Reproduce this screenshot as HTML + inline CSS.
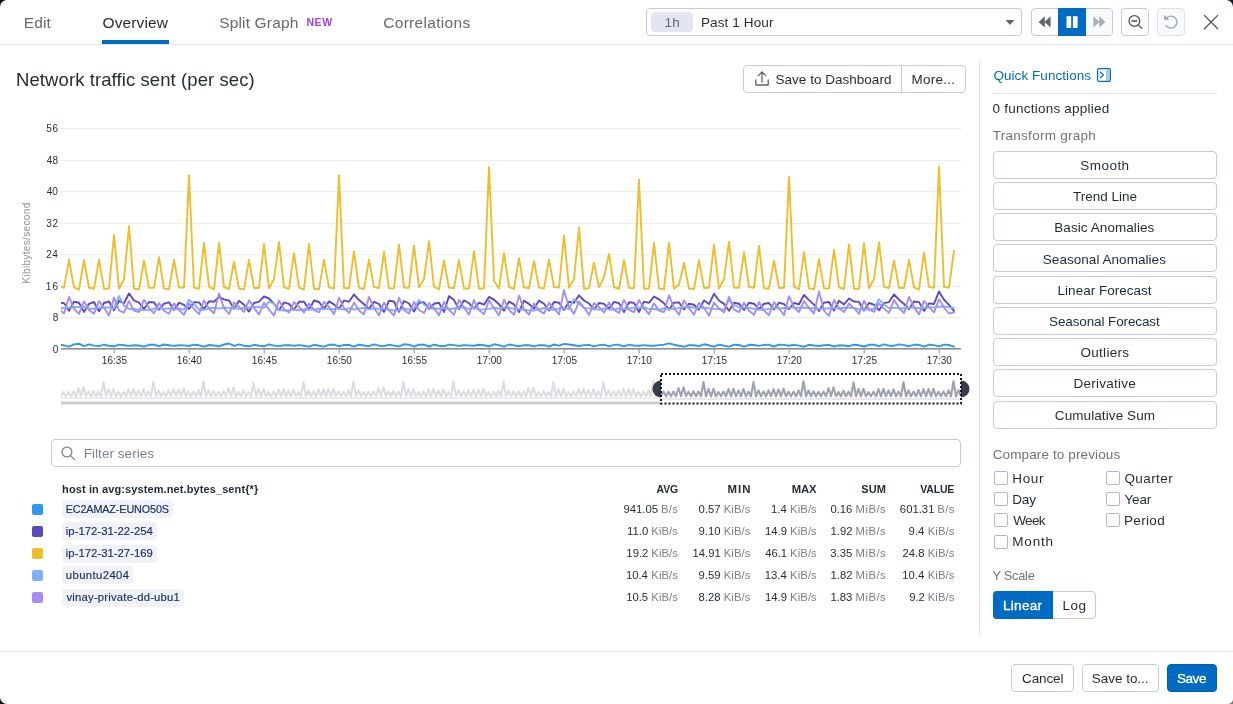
<!DOCTYPE html>
<html><head><meta charset="utf-8"><title>Graph</title><style>
html,body{margin:0;padding:0}
body{width:1233px;height:704px;overflow:hidden;background:#fff;font-family:'Liberation Sans',sans-serif;position:relative}
#m{position:absolute;left:0;top:0;width:1233px;height:704px;background:#fff;border-radius:7px 7px 5px 7px;overflow:hidden}
.c{position:absolute;width:10px;height:10px}
#tx{position:absolute;left:0;top:0;will-change:transform}
.abs{position:absolute}
.t{position:absolute;white-space:pre}
</style></head><body><div class="c" style="left:0;top:0;background:#0b0c12"></div><div class="c" style="right:0;top:0;background:#05193c"></div><div class="c" style="left:0;bottom:0;background:#0e0f16"></div><div class="c" style="right:0;bottom:0;background:#7d7468"></div><div id="m">
<div class="abs" style="left:0px;top:44px;width:1233px;height:1px;background:#dfe2f0"></div>
<div class="abs" style="left:102px;top:40px;width:67px;height:4px;background:#006bc2"></div>
<div class="abs" style="left:646px;top:8px;width:376px;height:28px;box-sizing:border-box;border:1px solid #c3c8e3;border-radius:4px;"></div>
<div class="abs" style="left:651px;top:12px;width:42px;height:20px;background:#e3e5f1;border-radius:4px"></div>
<div class="abs" style="left:1031px;top:8px;width:82px;height:28px;box-sizing:border-box;border:1px solid #c3c8e3;border-radius:4px;background:#fff"></div>
<div class="abs" style="left:1086px;top:9px;width:26px;height:26px;background:#f8f9fb;border-radius:0 3px 3px 0"></div>
<div class="abs" style="left:1058px;top:8px;width:28px;height:28px;background:#006bc2"></div>
<div class="abs" style="left:1121px;top:8px;width:28px;height:28px;box-sizing:border-box;border:1px solid #c3c8e3;border-radius:4px;"></div>
<div class="abs" style="left:1157px;top:8px;width:28px;height:28px;box-sizing:border-box;border:1px solid #c3c8e3;border-radius:4px;background:#f8f9fb;border-color:#dde0ef"></div>
<div class="abs" style="left:743px;top:65px;width:223px;height:28px;box-sizing:border-box;border:1px solid #c3c8e3;border-radius:4px;"></div>
<div class="abs" style="left:901px;top:66px;width:1px;height:26px;background:#c3c8e3"></div>
<div class="abs" style="left:979px;top:61px;width:1px;height:574px;background:#e1e4f0"></div>
<div class="abs" style="left:993px;top:93px;width:224px;height:1px;background:#e1e4f0"></div>
<div class="abs" style="left:993px;top:151px;width:224px;height:28px;box-sizing:border-box;border:1px solid #c3c8e3;border-radius:4px;"></div>
<div class="abs" style="left:993px;top:182px;width:224px;height:28px;box-sizing:border-box;border:1px solid #c3c8e3;border-radius:4px;"></div>
<div class="abs" style="left:993px;top:213px;width:224px;height:28px;box-sizing:border-box;border:1px solid #c3c8e3;border-radius:4px;"></div>
<div class="abs" style="left:993px;top:244px;width:224px;height:28px;box-sizing:border-box;border:1px solid #c3c8e3;border-radius:4px;"></div>
<div class="abs" style="left:993px;top:276px;width:224px;height:28px;box-sizing:border-box;border:1px solid #c3c8e3;border-radius:4px;"></div>
<div class="abs" style="left:993px;top:307px;width:224px;height:28px;box-sizing:border-box;border:1px solid #c3c8e3;border-radius:4px;"></div>
<div class="abs" style="left:993px;top:338px;width:224px;height:28px;box-sizing:border-box;border:1px solid #c3c8e3;border-radius:4px;"></div>
<div class="abs" style="left:993px;top:369px;width:224px;height:28px;box-sizing:border-box;border:1px solid #c3c8e3;border-radius:4px;"></div>
<div class="abs" style="left:993px;top:401px;width:224px;height:28px;box-sizing:border-box;border:1px solid #c3c8e3;border-radius:4px;"></div>
<div class="abs" style="left:994px;top:471px;width:14px;height:14px;box-sizing:border-box;border:1px solid #b0b6da;border-radius:2px"></div>
<div class="abs" style="left:994px;top:492px;width:14px;height:14px;box-sizing:border-box;border:1px solid #b0b6da;border-radius:2px"></div>
<div class="abs" style="left:994px;top:513px;width:14px;height:14px;box-sizing:border-box;border:1px solid #b0b6da;border-radius:2px"></div>
<div class="abs" style="left:994px;top:535px;width:14px;height:14px;box-sizing:border-box;border:1px solid #b0b6da;border-radius:2px"></div>
<div class="abs" style="left:1106px;top:471px;width:14px;height:14px;box-sizing:border-box;border:1px solid #b0b6da;border-radius:2px"></div>
<div class="abs" style="left:1106px;top:492px;width:14px;height:14px;box-sizing:border-box;border:1px solid #b0b6da;border-radius:2px"></div>
<div class="abs" style="left:1106px;top:513px;width:14px;height:14px;box-sizing:border-box;border:1px solid #b0b6da;border-radius:2px"></div>
<div class="abs" style="left:993px;top:591px;width:103px;height:28px;box-sizing:border-box;border:1px solid #c3c8e3;border-radius:4px;"></div>
<div class="abs" style="left:993px;top:591px;width:60px;height:28px;background:#006bc2;border-radius:4px 0 0 4px"></div>
<div class="abs" style="left:0px;top:651px;width:1233px;height:1px;background:#dfe2f0"></div>
<div class="abs" style="left:1011px;top:664px;width:63px;height:28px;box-sizing:border-box;border:1px solid #c3c8e3;border-radius:4px;"></div>
<div class="abs" style="left:1082px;top:664px;width:77px;height:28px;box-sizing:border-box;border:1px solid #c3c8e3;border-radius:4px;"></div>
<div class="abs" style="left:1167px;top:664px;width:50px;height:28px;background:#006bc2;border-radius:4px;box-sizing:border-box;border:1px solid #005fb3"></div>
<div class="abs" style="left:51px;top:439px;width:910px;height:28px;box-sizing:border-box;border:1px solid #c3c8e3;border-radius:4px;"></div>
<div class="abs" style="left:32px;top:504px;width:11px;height:11px;background:#2f97ee;border-radius:2px"></div>
<div class="abs" style="left:62px;top:500px;width:111px;height:17.5px;background:#f1f2f7;border-radius:4px"></div>
<div class="abs" style="left:32px;top:526px;width:11px;height:11px;background:#5b49be;border-radius:2px"></div>
<div class="abs" style="left:62px;top:522px;width:95px;height:17.5px;background:#f1f2f7;border-radius:4px"></div>
<div class="abs" style="left:32px;top:548px;width:11px;height:11px;background:#eebd2a;border-radius:2px"></div>
<div class="abs" style="left:62px;top:545px;width:95px;height:17.5px;background:#f1f2f7;border-radius:4px"></div>
<div class="abs" style="left:32px;top:570px;width:11px;height:11px;background:#7fb0f8;border-radius:2px"></div>
<div class="abs" style="left:62px;top:566px;width:71px;height:17.5px;background:#f1f2f7;border-radius:4px"></div>
<div class="abs" style="left:32px;top:592px;width:11px;height:11px;background:#a78cf8;border-radius:2px"></div>
<div class="abs" style="left:62px;top:589px;width:122px;height:17.5px;background:#f1f2f7;border-radius:4px"></div>
<svg class="abs" style="left:0;top:0" width="1233" height="704" viewBox="0 0 1233 704">
<line x1="61" x2="961" y1="317.6" y2="317.6" stroke="#ededed" stroke-width="1.1"/>
<line x1="61" x2="961" y1="286.5" y2="286.5" stroke="#ededed" stroke-width="1.1"/>
<line x1="61" x2="961" y1="254.7" y2="254.7" stroke="#ededed" stroke-width="1.1"/>
<line x1="61" x2="961" y1="223.5" y2="223.5" stroke="#ededed" stroke-width="1.1"/>
<line x1="61" x2="961" y1="191.6" y2="191.6" stroke="#ededed" stroke-width="1.1"/>
<line x1="61" x2="961" y1="160.5" y2="160.5" stroke="#ededed" stroke-width="1.1"/>
<line x1="61" x2="961" y1="128.6" y2="128.6" stroke="#ededed" stroke-width="1.1"/>
<defs><clipPath id="cp"><rect x="61" y="120" width="900" height="232"/></clipPath></defs>
<g clip-path="url(#cp)" fill="none" stroke-width="1.9" stroke-linejoin="round" stroke-linecap="round">
<path d="M59.0,344.8 L64.0,345.3 L69.0,346.6 L74.0,344.4 L79.0,343.7 L84.0,346.2 L89.0,344.4 L94.0,345.6 L99.0,346.1 L104.0,344.7 L109.0,345.7 L114.0,346.3 L119.0,344.6 L124.0,345.2 L129.0,345.9 L134.0,345.2 L139.0,345.5 L144.0,346.6 L149.0,344.8 L154.0,344.7 L159.0,346.1 L164.0,344.5 L169.0,345.3 L174.0,345.9 L179.0,345.2 L184.0,345.4 L189.0,346.0 L194.0,344.6 L199.0,345.3 L204.0,346.6 L209.0,345.0 L214.0,345.5 L219.0,346.4 L224.0,344.5 L229.0,343.5 L234.0,345.8 L239.0,344.4 L244.0,345.7 L249.0,346.3 L254.0,344.8 L259.0,345.7 L264.0,346.3 L269.0,344.4 L274.0,345.6 L279.0,346.1 L284.0,345.2 L289.0,345.1 L294.0,345.8 L299.0,345.1 L304.0,345.7 L309.0,346.6 L314.0,344.8 L319.0,345.7 L324.0,346.6 L329.0,344.8 L334.0,344.7 L339.0,346.3 L344.0,344.9 L349.0,345.0 L354.0,346.6 L359.0,344.7 L364.0,345.5 L369.0,346.1 L374.0,344.3 L379.0,345.7 L384.0,346.1 L389.0,344.7 L394.0,345.6 L399.0,346.4 L404.0,344.3 L409.0,344.7 L414.0,346.6 L419.0,344.6 L424.0,344.7 L429.0,346.5 L434.0,344.7 L439.0,345.7 L444.0,346.3 L449.0,344.6 L454.0,345.1 L459.0,345.9 L464.0,345.2 L469.0,345.4 L474.0,345.8 L479.0,344.7 L484.0,345.2 L489.0,346.3 L494.0,344.3 L499.0,345.1 L504.0,346.7 L509.0,344.5 L514.0,345.4 L519.0,346.2 L524.0,345.1 L529.0,345.3 L534.0,346.4 L539.0,345.2 L544.0,345.1 L549.0,346.6 L554.0,344.5 L559.0,345.7 L564.0,343.9 L569.0,344.5 L574.0,345.2 L579.0,346.0 L584.0,345.1 L589.0,344.9 L594.0,346.3 L599.0,345.1 L604.0,344.7 L609.0,346.3 L614.0,344.9 L619.0,344.8 L624.0,346.3 L629.0,344.6 L634.0,345.5 L639.0,345.8 L644.0,345.1 L649.0,345.7 L654.0,345.7 L659.0,345.1 L664.0,344.7 L669.0,343.3 L674.0,344.7 L679.0,345.7 L684.0,346.6 L689.0,345.1 L694.0,345.3 L699.0,346.1 L704.0,344.3 L709.0,345.3 L714.0,346.6 L719.0,344.7 L724.0,345.6 L729.0,346.6 L734.0,344.7 L739.0,345.0 L744.0,346.6 L749.0,344.8 L754.0,345.0 L759.0,345.9 L764.0,344.9 L769.0,344.8 L774.0,346.5 L779.0,344.6 L784.0,344.9 L789.0,345.8 L794.0,344.8 L799.0,345.6 L804.0,346.7 L809.0,344.8 L814.0,345.5 L819.0,346.0 L824.0,345.2 L829.0,344.9 L834.0,346.5 L839.0,345.3 L844.0,345.5 L849.0,346.2 L854.0,344.7 L859.0,345.3 L864.0,346.5 L869.0,344.8 L874.0,344.7 L879.0,346.1 L884.0,344.3 L889.0,345.7 L894.0,345.7 L899.0,344.4 L904.0,345.1 L909.0,346.2 L914.0,344.8 L919.0,344.8 L924.0,346.6 L929.0,344.6 L934.0,345.1 L939.0,346.4 L944.0,344.6 L949.0,345.0 L954.0,346.6" stroke="#2f97ee"/>
<path d="M59.0,303.0 L64.0,303.1 L69.0,310.8 L74.0,301.7 L79.0,302.8 L84.0,311.9 L89.0,303.8 L94.0,302.0 L99.0,311.2 L104.0,303.0 L109.0,301.5 L114.0,310.4 L119.0,300.8 L124.0,303.3 L129.0,293.4 L134.0,300.5 L139.0,302.7 L144.0,309.0 L149.0,302.0 L154.0,302.4 L159.0,309.7 L164.0,303.6 L169.0,302.3 L174.0,310.0 L179.0,302.7 L184.0,304.9 L189.0,309.0 L194.0,302.1 L199.0,302.4 L204.0,309.0 L209.0,301.3 L214.0,301.7 L219.0,296.9 L224.0,299.3 L229.0,300.5 L234.0,308.8 L239.0,300.7 L244.0,304.7 L249.0,311.6 L254.0,303.0 L259.0,301.6 L264.0,296.5 L269.0,298.5 L274.0,303.9 L279.0,310.3 L284.0,302.4 L289.0,303.8 L294.0,310.0 L299.0,301.7 L304.0,301.8 L309.0,309.7 L314.0,300.5 L319.0,302.0 L324.0,308.6 L329.0,301.4 L334.0,304.4 L339.0,309.0 L344.0,300.4 L349.0,301.8 L354.0,294.5 L359.0,300.1 L364.0,304.2 L369.0,309.1 L374.0,301.8 L379.0,304.0 L384.0,311.9 L389.0,300.8 L394.0,301.5 L399.0,311.8 L404.0,301.0 L409.0,303.5 L414.0,311.6 L419.0,302.8 L424.0,302.3 L429.0,309.0 L434.0,303.7 L439.0,302.8 L444.0,311.9 L449.0,296.1 L454.0,300.1 L459.0,309.0 L464.0,300.3 L469.0,303.2 L474.0,308.6 L479.0,302.7 L484.0,304.7 L489.0,296.9 L494.0,299.7 L499.0,304.3 L504.0,310.7 L509.0,301.6 L514.0,304.4 L519.0,312.0 L524.0,300.7 L529.0,303.9 L534.0,308.7 L539.0,300.6 L544.0,303.7 L549.0,310.5 L554.0,302.0 L559.0,302.7 L564.0,310.0 L569.0,301.8 L574.0,302.8 L579.0,295.3 L584.0,300.5 L589.0,303.5 L594.0,309.5 L599.0,303.0 L604.0,303.9 L609.0,308.6 L614.0,302.0 L619.0,303.1 L624.0,312.1 L629.0,302.3 L634.0,302.9 L639.0,312.0 L644.0,301.6 L649.0,302.8 L654.0,296.5 L659.0,299.3 L664.0,303.3 L669.0,309.7 L674.0,302.6 L679.0,302.5 L684.0,309.5 L689.0,303.7 L694.0,304.8 L699.0,309.7 L704.0,300.4 L709.0,304.1 L714.0,293.8 L719.0,300.5 L724.0,303.9 L729.0,310.8 L734.0,302.7 L739.0,303.7 L744.0,310.0 L749.0,302.7 L754.0,303.7 L759.0,309.4 L764.0,303.7 L769.0,303.0 L774.0,309.5 L779.0,302.7 L784.0,304.2 L789.0,309.2 L794.0,303.0 L799.0,304.3 L804.0,294.9 L809.0,300.1 L814.0,304.6 L819.0,311.0 L824.0,302.6 L829.0,302.0 L834.0,310.5 L839.0,300.8 L844.0,304.4 L849.0,298.5 L854.0,301.5 L859.0,301.9 L864.0,310.5 L869.0,303.0 L874.0,304.6 L879.0,310.2 L884.0,303.1 L889.0,302.1 L894.0,294.5 L899.0,299.7 L904.0,304.0 L909.0,309.2 L914.0,301.5 L919.0,302.1 L924.0,310.9 L929.0,303.4 L934.0,304.0 L939.0,291.4 L944.0,299.7 L949.0,304.8 L954.0,311.1" stroke="#5b49be"/>
<path d="M59.0,285.9 L64.0,287.8 L69.0,259.8 L74.0,287.4 L79.0,289.5 L84.0,260.2 L89.0,287.7 L94.0,288.8 L99.0,259.8 L104.0,288.7 L109.0,288.5 L114.0,235.0 L119.0,288.7 L124.0,279.2 L129.0,226.3 L134.0,288.7 L139.0,289.4 L144.0,260.6 L149.0,287.9 L154.0,287.8 L159.0,257.1 L164.0,288.6 L169.0,289.1 L174.0,259.8 L179.0,287.5 L184.0,287.6 L189.0,175.4 L194.0,287.6 L199.0,288.7 L204.0,242.8 L209.0,286.7 L214.0,289.5 L219.0,242.8 L224.0,287.0 L229.0,289.0 L234.0,261.8 L239.0,288.5 L244.0,289.4 L249.0,259.8 L254.0,288.2 L259.0,287.8 L264.0,244.0 L269.0,288.4 L274.0,279.2 L279.0,242.1 L284.0,287.4 L289.0,288.8 L294.0,253.1 L299.0,287.6 L304.0,289.5 L309.0,244.0 L314.0,288.7 L319.0,289.2 L324.0,259.8 L329.0,287.3 L334.0,288.7 L339.0,175.4 L344.0,288.1 L349.0,288.3 L354.0,251.5 L359.0,287.8 L364.0,289.0 L369.0,259.8 L374.0,287.1 L379.0,288.1 L384.0,251.9 L389.0,288.3 L394.0,288.4 L399.0,244.4 L404.0,287.7 L409.0,287.7 L414.0,245.6 L419.0,287.2 L424.0,279.2 L429.0,241.3 L434.0,286.7 L439.0,289.4 L444.0,260.6 L449.0,287.9 L454.0,288.0 L459.0,260.2 L464.0,288.5 L469.0,288.5 L474.0,251.5 L479.0,288.7 L484.0,288.2 L489.0,167.1 L494.0,280.7 L499.0,288.4 L504.0,253.1 L509.0,286.9 L514.0,288.9 L519.0,258.2 L524.0,287.3 L529.0,288.3 L534.0,261.0 L539.0,287.6 L544.0,288.6 L549.0,259.4 L554.0,287.0 L559.0,287.6 L564.0,235.7 L569.0,287.8 L574.0,279.2 L579.0,227.5 L584.0,288.7 L589.0,288.1 L594.0,262.6 L599.0,287.4 L604.0,277.2 L609.0,253.9 L614.0,287.0 L619.0,289.0 L624.0,260.2 L629.0,288.0 L634.0,288.2 L639.0,179.7 L644.0,288.8 L649.0,288.6 L654.0,242.8 L659.0,288.5 L664.0,289.4 L669.0,242.8 L674.0,288.7 L679.0,284.7 L684.0,263.0 L689.0,288.5 L694.0,289.1 L699.0,260.2 L704.0,288.0 L709.0,287.7 L714.0,244.8 L719.0,288.6 L724.0,279.2 L729.0,241.7 L734.0,287.6 L739.0,287.7 L744.0,252.3 L749.0,287.0 L754.0,287.7 L759.0,245.6 L764.0,288.2 L769.0,288.7 L774.0,260.6 L779.0,288.0 L784.0,287.7 L789.0,176.9 L794.0,286.7 L799.0,289.3 L804.0,252.3 L809.0,288.4 L814.0,289.1 L819.0,259.0 L824.0,288.3 L829.0,288.6 L834.0,249.6 L839.0,287.5 L844.0,289.0 L849.0,244.4 L854.0,288.8 L859.0,288.7 L864.0,243.2 L869.0,288.0 L874.0,279.2 L879.0,242.1 L884.0,286.8 L889.0,288.1 L894.0,260.6 L899.0,287.7 L904.0,288.3 L909.0,259.8 L914.0,287.4 L919.0,289.5 L924.0,252.7 L929.0,286.9 L934.0,287.9 L939.0,166.7 L944.0,286.9 L949.0,287.9 L954.0,250.7" stroke="#eebd2a"/>
<path d="M59.0,308.5 L64.0,308.0 L69.0,307.6 L74.0,307.0 L79.0,307.1 L84.0,306.8 L89.0,308.7 L94.0,308.8 L99.0,307.7 L104.0,307.8 L109.0,307.2 L114.0,308.7 L119.0,296.1 L124.0,305.6 L129.0,309.0 L134.0,308.7 L139.0,309.9 L144.0,310.1 L149.0,310.1 L154.0,308.6 L159.0,308.0 L164.0,309.1 L169.0,308.3 L174.0,309.3 L179.0,308.8 L184.0,309.7 L189.0,299.7 L194.0,304.0 L199.0,309.5 L204.0,309.9 L209.0,308.3 L214.0,307.6 L219.0,308.6 L224.0,307.5 L229.0,307.9 L234.0,307.8 L239.0,308.9 L244.0,307.8 L249.0,307.7 L254.0,307.0 L259.0,306.8 L264.0,308.0 L269.0,301.6 L274.0,303.6 L279.0,310.0 L284.0,310.5 L289.0,310.3 L294.0,309.4 L299.0,310.3 L304.0,309.3 L309.0,309.5 L314.0,309.6 L319.0,308.5 L324.0,308.7 L329.0,309.1 L334.0,309.0 L339.0,308.4 L344.0,309.6 L349.0,308.1 L354.0,309.5 L359.0,308.6 L364.0,307.9 L369.0,309.4 L374.0,308.4 L379.0,308.9 L384.0,308.6 L389.0,309.8 L394.0,310.5 L399.0,310.5 L404.0,308.7 L409.0,309.5 L414.0,308.6 L419.0,300.1 L424.0,304.4 L429.0,308.1 L434.0,308.7 L439.0,308.7 L444.0,308.0 L449.0,309.3 L454.0,308.5 L459.0,307.9 L464.0,307.4 L469.0,309.0 L474.0,307.9 L479.0,309.2 L484.0,309.4 L489.0,308.9 L494.0,307.8 L499.0,308.6 L504.0,307.6 L509.0,308.0 L514.0,308.7 L519.0,309.2 L524.0,309.8 L529.0,310.4 L534.0,310.5 L539.0,309.4 L544.0,308.0 L549.0,309.1 L554.0,310.0 L559.0,308.4 L564.0,308.4 L569.0,308.8 L574.0,299.3 L579.0,303.6 L584.0,308.1 L589.0,308.4 L594.0,308.8 L599.0,309.8 L604.0,308.4 L609.0,309.6 L614.0,309.3 L619.0,308.3 L624.0,309.3 L629.0,308.6 L634.0,307.6 L639.0,307.7 L644.0,307.5 L649.0,308.9 L654.0,309.0 L659.0,309.7 L664.0,308.5 L669.0,309.1 L674.0,309.1 L679.0,307.8 L684.0,307.3 L689.0,306.8 L694.0,307.7 L699.0,308.1 L704.0,307.8 L709.0,308.2 L714.0,308.9 L719.0,309.1 L724.0,309.8 L729.0,299.7 L734.0,304.8 L739.0,307.3 L744.0,307.6 L749.0,308.0 L754.0,308.7 L759.0,309.7 L764.0,309.9 L769.0,308.7 L774.0,307.9 L779.0,308.6 L784.0,308.0 L789.0,307.6 L794.0,307.6 L799.0,307.7 L804.0,307.5 L809.0,308.3 L814.0,308.0 L819.0,308.8 L824.0,308.8 L829.0,308.2 L834.0,307.9 L839.0,308.8 L844.0,307.7 L849.0,307.8 L854.0,308.0 L859.0,309.4 L864.0,309.0 L869.0,309.5 L874.0,308.8 L879.0,299.3 L884.0,304.4 L889.0,308.0 L894.0,307.6 L899.0,308.4 L904.0,308.2 L909.0,307.9 L914.0,307.4 L919.0,308.3 L924.0,307.7 L929.0,307.2 L934.0,307.4 L939.0,306.8 L944.0,306.5 L949.0,307.4 L954.0,308.0" stroke="#7fb0f8"/>
<path d="M59.0,308.9 L64.0,313.6 L69.0,296.9 L74.0,308.9 L79.0,313.8 L84.0,301.3 L89.0,310.0 L94.0,313.8 L99.0,301.1 L104.0,307.6 L109.0,315.5 L114.0,297.7 L119.0,310.4 L124.0,312.7 L129.0,300.9 L134.0,310.6 L139.0,312.0 L144.0,299.8 L149.0,308.1 L154.0,313.4 L159.0,303.0 L164.0,310.7 L169.0,313.8 L174.0,303.4 L179.0,310.0 L184.0,314.9 L189.0,303.5 L194.0,308.9 L199.0,314.1 L204.0,300.3 L209.0,308.7 L214.0,313.3 L219.0,293.4 L224.0,308.1 L229.0,314.0 L234.0,302.5 L239.0,306.8 L244.0,311.9 L249.0,300.3 L254.0,307.9 L259.0,314.6 L264.0,302.7 L269.0,309.6 L274.0,315.6 L279.0,300.6 L284.0,309.1 L289.0,312.5 L294.0,302.1 L299.0,306.9 L304.0,312.5 L309.0,303.6 L314.0,309.9 L319.0,312.3 L324.0,301.8 L329.0,306.9 L334.0,314.3 L339.0,297.7 L344.0,308.2 L349.0,312.8 L354.0,302.6 L359.0,310.4 L364.0,314.5 L369.0,296.9 L374.0,307.7 L379.0,315.4 L384.0,302.6 L389.0,310.3 L394.0,315.6 L399.0,297.7 L404.0,310.0 L409.0,313.6 L414.0,301.9 L419.0,310.0 L424.0,313.0 L429.0,303.1 L434.0,308.2 L439.0,315.4 L444.0,302.0 L449.0,309.9 L454.0,314.8 L459.0,299.8 L464.0,307.6 L469.0,314.7 L474.0,300.1 L479.0,309.9 L484.0,314.3 L489.0,300.2 L494.0,308.2 L499.0,315.5 L504.0,299.7 L509.0,309.9 L514.0,314.8 L519.0,295.7 L524.0,309.4 L529.0,314.7 L534.0,303.3 L539.0,310.4 L544.0,313.6 L549.0,302.7 L554.0,308.3 L559.0,314.4 L564.0,290.2 L569.0,306.9 L574.0,313.9 L579.0,301.4 L584.0,307.3 L589.0,315.1 L594.0,303.0 L599.0,307.1 L604.0,312.6 L609.0,302.6 L614.0,310.0 L619.0,312.9 L624.0,299.9 L629.0,309.9 L634.0,312.1 L639.0,300.1 L644.0,308.3 L649.0,314.2 L654.0,303.2 L659.0,310.6 L664.0,312.1 L669.0,295.3 L674.0,307.9 L679.0,314.8 L684.0,300.4 L689.0,308.4 L694.0,314.7 L699.0,302.9 L704.0,307.9 L709.0,315.6 L714.0,302.7 L719.0,308.5 L724.0,312.5 L729.0,296.9 L734.0,309.6 L739.0,312.2 L744.0,302.8 L749.0,310.7 L754.0,314.8 L759.0,301.9 L764.0,310.5 L769.0,315.2 L774.0,302.2 L779.0,308.5 L784.0,315.3 L789.0,296.1 L794.0,307.2 L799.0,312.0 L804.0,301.0 L809.0,308.0 L814.0,313.5 L819.0,291.4 L824.0,310.6 L829.0,315.8 L834.0,300.0 L839.0,308.0 L844.0,312.1 L849.0,303.5 L854.0,308.2 L859.0,313.9 L864.0,300.7 L869.0,309.5 L874.0,311.9 L879.0,303.3 L884.0,308.6 L889.0,312.9 L894.0,300.1 L899.0,307.8 L904.0,313.1 L909.0,296.9 L914.0,307.1 L919.0,314.5 L924.0,300.9 L929.0,307.2 L934.0,312.4 L939.0,299.3 L944.0,307.6 L949.0,313.5 L954.0,312.3" stroke="#a78cf8"/>
</g>
<rect x="61" y="348" width="900" height="1.6" fill="#8a8f96"/>
<rect x="113.7" y="349.5" width="1" height="4" fill="#8a8f96"/>
<rect x="188.7" y="349.5" width="1" height="4" fill="#8a8f96"/>
<rect x="263.7" y="349.5" width="1" height="4" fill="#8a8f96"/>
<rect x="338.7" y="349.5" width="1" height="4" fill="#8a8f96"/>
<rect x="413.7" y="349.5" width="1" height="4" fill="#8a8f96"/>
<rect x="488.7" y="349.5" width="1" height="4" fill="#8a8f96"/>
<rect x="563.7" y="349.5" width="1" height="4" fill="#8a8f96"/>
<rect x="638.7" y="349.5" width="1" height="4" fill="#8a8f96"/>
<rect x="713.7" y="349.5" width="1" height="4" fill="#8a8f96"/>
<rect x="788.7" y="349.5" width="1" height="4" fill="#8a8f96"/>
<rect x="863.7" y="349.5" width="1" height="4" fill="#8a8f96"/>
<rect x="938.7" y="349.5" width="1" height="4" fill="#8a8f96"/>
<defs><clipPath id="cn1"><rect x="61" y="370" width="600" height="40"/></clipPath><clipPath id="cn2"><rect x="661" y="370" width="300" height="40"/></clipPath></defs>
<g clip-path="url(#cn1)" fill="none"><path d="M61.0,396.3 L63.5,391.9 L66.0,396.3 L68.5,391.9 L71.0,396.3 L73.5,391.5 L76.0,396.3 L78.5,387.9 L81.0,396.3 L83.5,387.2 L86.0,396.3 L88.5,391.7 L91.0,396.3 L93.5,391.1 L96.0,396.3 L98.5,391.4 L101.0,396.3 L103.5,382.2 L106.0,396.3 L108.5,388.9 L111.0,396.3 L113.5,388.9 L116.0,396.3 L118.5,391.8 L121.0,396.3 L123.5,391.8 L126.0,396.3 L128.5,389.3 L131.0,396.3 L133.5,388.9 L136.0,396.3 L138.5,390.3 L141.0,396.3 L143.5,389.2 L146.0,396.3 L148.5,391.5 L151.0,396.3 L153.5,382.1 L156.0,396.3 L158.5,390.5 L161.0,396.3 L163.5,391.9 L166.0,396.3 L168.5,390.2 L171.0,396.3 L173.5,389.0 L176.0,396.3 L178.5,389.4 L181.0,396.3 L183.5,388.7 L186.0,396.3 L188.5,391.6 L191.0,396.3 L193.5,391.4 L196.0,396.3 L198.5,390.0 L201.0,396.3 L203.5,381.3 L206.0,396.3 L208.5,390.2 L211.0,396.3 L213.5,391.1 L216.0,396.3 L218.5,391.7 L221.0,396.3 L223.5,391.3 L226.0,396.3 L228.5,388.2 L231.0,396.3 L233.5,387.4 L236.0,396.3 L238.5,392.2 L241.0,396.3 L243.5,390.4 L246.0,396.3 L248.5,391.9 L251.0,396.3 L253.5,382.7 L256.0,396.3 L258.5,388.8 L261.0,396.3 L263.5,388.8 L266.0,396.3 L268.5,392.1 L271.0,396.3 L273.5,391.4 L276.0,396.3 L278.5,389.5 L281.0,396.3 L283.5,388.9 L286.0,396.3 L288.5,390.5 L291.0,396.3 L293.5,389.4 L296.0,396.3 L298.5,391.9 L301.0,396.3 L303.5,382.4 L306.0,396.3 L308.5,390.5 L311.0,396.3 L313.5,391.2 L316.0,396.3 L318.5,389.7 L321.0,396.3 L323.5,389.0 L326.0,396.3 L328.5,389.0 L331.0,396.3 L333.5,389.0 L336.0,396.3 L338.5,391.4 L341.0,396.3 L343.5,391.6 L346.0,396.3 L348.5,390.3 L351.0,396.3 L353.5,381.4 L356.0,396.3 L358.5,390.3 L361.0,396.3 L363.5,391.8 L366.0,396.3 L368.5,391.5 L371.0,396.3 L373.5,391.5 L376.0,396.3 L378.5,388.1 L381.0,396.3 L383.5,387.3 L386.0,396.3 L388.5,391.5 L391.0,396.3 L393.5,391.0 L396.0,396.3 L398.5,391.6 L401.0,396.3 L403.5,382.1 L406.0,396.3 L408.5,389.1 L411.0,396.3 L413.5,389.2 L416.0,396.3 L418.5,392.0 L421.0,396.3 L423.5,391.5 L426.0,396.3 L428.5,389.4 L431.0,396.3 L433.5,388.7 L436.0,396.3 L438.5,390.7 L441.0,396.3 L443.5,389.3 L446.0,396.3 L448.5,391.9 L451.0,396.3 L453.5,381.9 L456.0,396.3 L458.5,390.1 L461.0,396.3 L463.5,391.4 L466.0,396.3 L468.5,390.3 L471.0,396.3 L473.5,389.5 L476.0,396.3 L478.5,389.5 L481.0,396.3 L483.5,388.7 L486.0,396.3 L488.5,392.0 L491.0,396.3 L493.5,391.4 L496.0,396.3 L498.5,390.4 L501.0,396.3 L503.5,381.4 L506.0,396.3 L508.5,390.3 L511.0,396.3 L513.5,391.6 L516.0,396.3 L518.5,391.5 L521.0,396.3 L523.5,391.6 L526.0,396.3 L528.5,388.2 L531.0,396.3 L533.5,387.4 L536.0,396.3 L538.5,392.0 L541.0,396.3 L543.5,390.9 L546.0,396.3 L548.5,391.9 L551.0,396.3 L553.5,382.4 L556.0,396.3 L558.5,389.1 L561.0,396.3 L563.5,388.8 L566.0,396.3 L568.5,392.3 L571.0,396.3 L573.5,391.4 L576.0,396.3 L578.5,389.0 L581.0,396.3 L583.5,388.7 L586.0,396.3 L588.5,390.2 L591.0,396.3 L593.5,389.3 L596.0,396.3 L598.5,391.6 L601.0,396.3 L603.5,382.4 L606.0,396.3 L608.5,390.4 L611.0,396.3 L613.5,391.3 L616.0,396.3 L618.5,390.2 L621.0,396.3 L623.5,388.9 L626.0,396.3 L628.5,388.8 L631.0,396.3 L633.5,388.9 L636.0,396.3 L638.5,391.8 L641.0,396.3 L643.5,391.6 L646.0,396.3 L648.5,390.5 L651.0,396.3 L653.5,381.0 L656.0,396.3 L658.5,390.2 L661.0,396.3 L663.5,391.6 L666.0,396.3 L668.5,391.7 L671.0,396.3 L673.5,391.6 L676.0,396.3 L678.5,388.1 L681.0,396.3 L683.5,387.2 L686.0,396.3 L688.5,391.7 L691.0,396.3 L693.5,391.2 L696.0,396.3 L698.5,391.6 L701.0,396.3 L703.5,382.1 L706.0,396.3 L708.5,388.9 L711.0,396.3 L713.5,388.9 L716.0,396.3 L718.5,391.9 L721.0,396.3 L723.5,391.6 L726.0,396.3 L728.5,389.1 L731.0,396.3 L733.5,388.8 L736.0,396.3 L738.5,390.5 L741.0,396.3 L743.5,389.1 L746.0,396.3 L748.5,391.6 L751.0,396.3 L753.5,382.1 L756.0,396.3 L758.5,390.3 L761.0,396.3 L763.5,391.6 L766.0,396.3 L768.5,390.3 L771.0,396.3 L773.5,389.2 L776.0,396.3 L778.5,389.4 L781.0,396.3 L783.5,388.7 L786.0,396.3 L788.5,391.7 L791.0,396.3 L793.5,391.7 L796.0,396.3 L798.5,390.3 L801.0,396.3 L803.5,381.2 L806.0,396.3 L808.5,390.5 L811.0,396.3 L813.5,391.3 L816.0,396.3 L818.5,391.8 L821.0,396.3 L823.5,391.5 L826.0,396.3 L828.5,388.2 L831.0,396.3 L833.5,387.3 L836.0,396.3 L838.5,392.0 L841.0,396.3 L843.5,390.7 L846.0,396.3 L848.5,391.7 L851.0,396.3 L853.5,382.5 L856.0,396.3 L858.5,388.9 L861.0,396.3 L863.5,388.9 L866.0,396.3 L868.5,392.1 L871.0,396.3 L873.5,391.7 L876.0,396.3 L878.5,389.2 L881.0,396.3 L883.5,388.8 L886.0,396.3 L888.5,390.4 L891.0,396.3 L893.5,389.4 L896.0,396.3 L898.5,391.7 L901.0,396.3 L903.5,382.2 L906.0,396.3 L908.5,390.4 L911.0,396.3 L913.5,391.5 L916.0,396.3 L918.5,390.0 L921.0,396.3 L923.5,389.2 L926.0,396.3 L928.5,389.0 L931.0,396.3 L933.5,388.8 L936.0,396.3 L938.5,391.7 L941.0,396.3 L943.5,391.6 L946.0,396.3 L948.5,390.5 L951.0,396.3 L953.5,381.2 L956.0,396.3 L958.5,390.2 L961.0,396.3" stroke="#dcdde2" stroke-width="2.1" stroke-linejoin="round"/><rect x="61" y="397.5" width="600" height="1.5" fill="#e6e7ec"/></g>
<g clip-path="url(#cn2)" fill="none"><path d="M61.0,396.3 L63.5,391.9 L66.0,396.3 L68.5,391.9 L71.0,396.3 L73.5,391.5 L76.0,396.3 L78.5,387.9 L81.0,396.3 L83.5,387.2 L86.0,396.3 L88.5,391.7 L91.0,396.3 L93.5,391.1 L96.0,396.3 L98.5,391.4 L101.0,396.3 L103.5,382.2 L106.0,396.3 L108.5,388.9 L111.0,396.3 L113.5,388.9 L116.0,396.3 L118.5,391.8 L121.0,396.3 L123.5,391.8 L126.0,396.3 L128.5,389.3 L131.0,396.3 L133.5,388.9 L136.0,396.3 L138.5,390.3 L141.0,396.3 L143.5,389.2 L146.0,396.3 L148.5,391.5 L151.0,396.3 L153.5,382.1 L156.0,396.3 L158.5,390.5 L161.0,396.3 L163.5,391.9 L166.0,396.3 L168.5,390.2 L171.0,396.3 L173.5,389.0 L176.0,396.3 L178.5,389.4 L181.0,396.3 L183.5,388.7 L186.0,396.3 L188.5,391.6 L191.0,396.3 L193.5,391.4 L196.0,396.3 L198.5,390.0 L201.0,396.3 L203.5,381.3 L206.0,396.3 L208.5,390.2 L211.0,396.3 L213.5,391.1 L216.0,396.3 L218.5,391.7 L221.0,396.3 L223.5,391.3 L226.0,396.3 L228.5,388.2 L231.0,396.3 L233.5,387.4 L236.0,396.3 L238.5,392.2 L241.0,396.3 L243.5,390.4 L246.0,396.3 L248.5,391.9 L251.0,396.3 L253.5,382.7 L256.0,396.3 L258.5,388.8 L261.0,396.3 L263.5,388.8 L266.0,396.3 L268.5,392.1 L271.0,396.3 L273.5,391.4 L276.0,396.3 L278.5,389.5 L281.0,396.3 L283.5,388.9 L286.0,396.3 L288.5,390.5 L291.0,396.3 L293.5,389.4 L296.0,396.3 L298.5,391.9 L301.0,396.3 L303.5,382.4 L306.0,396.3 L308.5,390.5 L311.0,396.3 L313.5,391.2 L316.0,396.3 L318.5,389.7 L321.0,396.3 L323.5,389.0 L326.0,396.3 L328.5,389.0 L331.0,396.3 L333.5,389.0 L336.0,396.3 L338.5,391.4 L341.0,396.3 L343.5,391.6 L346.0,396.3 L348.5,390.3 L351.0,396.3 L353.5,381.4 L356.0,396.3 L358.5,390.3 L361.0,396.3 L363.5,391.8 L366.0,396.3 L368.5,391.5 L371.0,396.3 L373.5,391.5 L376.0,396.3 L378.5,388.1 L381.0,396.3 L383.5,387.3 L386.0,396.3 L388.5,391.5 L391.0,396.3 L393.5,391.0 L396.0,396.3 L398.5,391.6 L401.0,396.3 L403.5,382.1 L406.0,396.3 L408.5,389.1 L411.0,396.3 L413.5,389.2 L416.0,396.3 L418.5,392.0 L421.0,396.3 L423.5,391.5 L426.0,396.3 L428.5,389.4 L431.0,396.3 L433.5,388.7 L436.0,396.3 L438.5,390.7 L441.0,396.3 L443.5,389.3 L446.0,396.3 L448.5,391.9 L451.0,396.3 L453.5,381.9 L456.0,396.3 L458.5,390.1 L461.0,396.3 L463.5,391.4 L466.0,396.3 L468.5,390.3 L471.0,396.3 L473.5,389.5 L476.0,396.3 L478.5,389.5 L481.0,396.3 L483.5,388.7 L486.0,396.3 L488.5,392.0 L491.0,396.3 L493.5,391.4 L496.0,396.3 L498.5,390.4 L501.0,396.3 L503.5,381.4 L506.0,396.3 L508.5,390.3 L511.0,396.3 L513.5,391.6 L516.0,396.3 L518.5,391.5 L521.0,396.3 L523.5,391.6 L526.0,396.3 L528.5,388.2 L531.0,396.3 L533.5,387.4 L536.0,396.3 L538.5,392.0 L541.0,396.3 L543.5,390.9 L546.0,396.3 L548.5,391.9 L551.0,396.3 L553.5,382.4 L556.0,396.3 L558.5,389.1 L561.0,396.3 L563.5,388.8 L566.0,396.3 L568.5,392.3 L571.0,396.3 L573.5,391.4 L576.0,396.3 L578.5,389.0 L581.0,396.3 L583.5,388.7 L586.0,396.3 L588.5,390.2 L591.0,396.3 L593.5,389.3 L596.0,396.3 L598.5,391.6 L601.0,396.3 L603.5,382.4 L606.0,396.3 L608.5,390.4 L611.0,396.3 L613.5,391.3 L616.0,396.3 L618.5,390.2 L621.0,396.3 L623.5,388.9 L626.0,396.3 L628.5,388.8 L631.0,396.3 L633.5,388.9 L636.0,396.3 L638.5,391.8 L641.0,396.3 L643.5,391.6 L646.0,396.3 L648.5,390.5 L651.0,396.3 L653.5,381.0 L656.0,396.3 L658.5,390.2 L661.0,396.3 L663.5,391.6 L666.0,396.3 L668.5,391.7 L671.0,396.3 L673.5,391.6 L676.0,396.3 L678.5,388.1 L681.0,396.3 L683.5,387.2 L686.0,396.3 L688.5,391.7 L691.0,396.3 L693.5,391.2 L696.0,396.3 L698.5,391.6 L701.0,396.3 L703.5,382.1 L706.0,396.3 L708.5,388.9 L711.0,396.3 L713.5,388.9 L716.0,396.3 L718.5,391.9 L721.0,396.3 L723.5,391.6 L726.0,396.3 L728.5,389.1 L731.0,396.3 L733.5,388.8 L736.0,396.3 L738.5,390.5 L741.0,396.3 L743.5,389.1 L746.0,396.3 L748.5,391.6 L751.0,396.3 L753.5,382.1 L756.0,396.3 L758.5,390.3 L761.0,396.3 L763.5,391.6 L766.0,396.3 L768.5,390.3 L771.0,396.3 L773.5,389.2 L776.0,396.3 L778.5,389.4 L781.0,396.3 L783.5,388.7 L786.0,396.3 L788.5,391.7 L791.0,396.3 L793.5,391.7 L796.0,396.3 L798.5,390.3 L801.0,396.3 L803.5,381.2 L806.0,396.3 L808.5,390.5 L811.0,396.3 L813.5,391.3 L816.0,396.3 L818.5,391.8 L821.0,396.3 L823.5,391.5 L826.0,396.3 L828.5,388.2 L831.0,396.3 L833.5,387.3 L836.0,396.3 L838.5,392.0 L841.0,396.3 L843.5,390.7 L846.0,396.3 L848.5,391.7 L851.0,396.3 L853.5,382.5 L856.0,396.3 L858.5,388.9 L861.0,396.3 L863.5,388.9 L866.0,396.3 L868.5,392.1 L871.0,396.3 L873.5,391.7 L876.0,396.3 L878.5,389.2 L881.0,396.3 L883.5,388.8 L886.0,396.3 L888.5,390.4 L891.0,396.3 L893.5,389.4 L896.0,396.3 L898.5,391.7 L901.0,396.3 L903.5,382.2 L906.0,396.3 L908.5,390.4 L911.0,396.3 L913.5,391.5 L916.0,396.3 L918.5,390.0 L921.0,396.3 L923.5,389.2 L926.0,396.3 L928.5,389.0 L931.0,396.3 L933.5,388.8 L936.0,396.3 L938.5,391.7 L941.0,396.3 L943.5,391.6 L946.0,396.3 L948.5,390.5 L951.0,396.3 L953.5,381.2 L956.0,396.3 L958.5,390.2 L961.0,396.3" stroke="#9da2b3" stroke-width="2.1" stroke-linejoin="round"/><rect x="661" y="398.3" width="300" height="1.4" fill="#dddfe8"/></g>
<rect x="61" y="401.5" width="600" height="3" fill="#c9cad6"/>
<path d="M661,380.5 A8.5,8.5 0 0 0 661,397.5 Z" fill="#373b49"/>
<path d="M961,380.5 A8.5,8.5 0 0 1 961,397.5 Z" fill="#373b49"/>
<rect x="661" y="374" width="300" height="29.5" fill="none" stroke="#151821" stroke-width="2" stroke-dasharray="2 2"/>
</svg>
<svg class="abs" style="left:0;top:0" width="1233" height="704" viewBox="0 0 1233 704">
<path d="M1005.5,20 h9 l-4.5,4.9 z" fill="#5c6870"/>
<path d="M1038.6,21.9 L1044.8,16.2 V27.6 Z M1044.4,21.9 L1050.6,16.2 V27.6 Z" fill="#5c6870"/>
<rect x="1066.5" y="16.2" width="4.7" height="11.8" fill="#fff"/><rect x="1072.9" y="16.2" width="4.7" height="11.8" fill="#fff"/>
<path d="M1099.6,21.9 L1093.4,16.2 V27.6 Z M1105.4,21.9 L1099.2,16.2 V27.6 Z" fill="#a9afb5"/>
<g fill="none" stroke="#4a555f" stroke-width="1.3" stroke-linecap="round">
<circle cx="1134.4" cy="21" r="5.4"/><path d="M1138.3,24.9 L1141.6,28.3 M1131.8,21 H1137"/>
<path d="M1204.4,15.4 L1217.7,28.7 M1217.7,15.4 L1204.4,28.7"/>
</g>
<g fill="none" stroke="#a3a9af" stroke-width="1.4" stroke-linecap="round">
<path d="M1166.2,18.4 A6,6 0 1 1 1165.9,25.4"/>
</g>
<path d="M1164.3,15.6 L1164.6,19.8 L1168.6,19.4 Z" fill="#a3a9af" stroke="#a3a9af" stroke-width="0.8" stroke-linejoin="round"/>
<g fill="none" stroke="#5c6870" stroke-width="1.3" stroke-linecap="round" stroke-linejoin="round">
<path d="M755.8,79.8 V85 H768.2 V79.8 M762,82 V72.3 M758.3,75.6 L762,72 L765.7,75.6"/>
</g>
<g fill="none" stroke="#006bc2" stroke-width="1.15" stroke-linecap="round" stroke-linejoin="round">
<rect x="1097.6" y="68.6" width="12.8" height="12.8" rx="1.2"/>
<path d="M1100.3,72 L1103.6,74.9 L1100.3,77.8"/>
</g>
<rect x="1106" y="69.5" width="3.8" height="11.2" fill="#006bc2" opacity="0.35"/>
<g fill="none" stroke="#7b868f" stroke-width="1.3" stroke-linecap="round">
<circle cx="66.9" cy="452" r="4.9"/><path d="M70.6,455.6 L74.6,459.6"/>
</g>
</svg>
<div id="tx"><div class="abs" style="left:26px;top:243px;width:0;height:0"><div style="position:absolute;white-space:nowrap;transform:translate(-50%,-50%) rotate(-90deg);font-size:10px;color:#8b949c;letter-spacing:0.35px">Kibibytes/second</div></div>
<div class="t" style="left:23.83px;top:13.00px;font-size:15.5px;line-height:20px;color:#5f6b76;font-weight:400;letter-spacing:0.067px;">Edit</div>
<div class="t" style="left:102.58px;top:13.00px;font-size:15.5px;line-height:20px;color:#1c2b34;font-weight:400;letter-spacing:0.097px;">Overview</div>
<div class="t" style="left:219.15px;top:13.00px;font-size:15.5px;line-height:20px;color:#5f6b76;font-weight:400;letter-spacing:0.167px;">Split Graph</div>
<div class="t" style="left:306.38px;top:15.00px;font-size:10.5px;line-height:14px;color:#a23be8;font-weight:700;letter-spacing:0.623px;">NEW</div>
<div class="t" style="left:383.22px;top:13.00px;font-size:15.5px;line-height:20px;color:#5f6b76;font-weight:400;letter-spacing:0.307px;">Correlations</div>
<div class="t" style="left:664.50px;top:14.00px;font-size:13.5px;line-height:18px;color:#5f6b78;font-weight:400;letter-spacing:0.237px;">1h</div>
<div class="t" style="left:701.00px;top:14.00px;font-size:13.5px;line-height:18px;color:#1c2b34;font-weight:400;letter-spacing:0.120px;">Past 1 Hour</div>
<div class="t" style="left:16.02px;top:68.00px;font-size:18.5px;line-height:24px;color:#1c2b34;font-weight:400;letter-spacing:0.089px;">Network traffic sent (per sec)</div>
<div class="t" style="left:775.50px;top:71.00px;font-size:13.5px;line-height:18px;color:#1c2b34;font-weight:400;letter-spacing:0.021px;">Save to Dashboard</div>
<div class="t" style="left:911.60px;top:71.00px;font-size:13.5px;line-height:18px;color:#1c2b34;font-weight:400;letter-spacing:0.239px;">More...</div>
<div class="t" style="left:993.41px;top:67.00px;font-size:13.5px;line-height:18px;color:#006bc2;font-weight:400;letter-spacing:0.062px;">Quick Functions</div>
<div class="t" style="left:992.47px;top:100.00px;font-size:13.5px;line-height:18px;color:#1c2b34;font-weight:400;letter-spacing:0.237px;">0 functions applied</div>
<div class="t" style="left:992.79px;top:127.00px;font-size:13.5px;line-height:18px;color:#69757f;font-weight:400;letter-spacing:0.266px;">Transform graph</div>
<div class="t" style="left:1080.30px;top:157.00px;font-size:13.5px;line-height:18px;color:#1c2b34;font-weight:400;letter-spacing:0.461px;">Smooth</div>
<div class="t" style="left:1072.89px;top:188.00px;font-size:13.5px;line-height:18px;color:#1c2b34;font-weight:400;letter-spacing:0.015px;">Trend Line</div>
<div class="t" style="left:1054.30px;top:219.00px;font-size:13.5px;line-height:18px;color:#1c2b34;font-weight:400;letter-spacing:0.069px;">Basic Anomalies</div>
<div class="t" style="left:1042.80px;top:251.00px;font-size:13.5px;line-height:18px;color:#1c2b34;font-weight:400;letter-spacing:0.044px;">Seasonal Anomalies</div>
<div class="t" style="left:1057.60px;top:282.00px;font-size:13.5px;line-height:18px;color:#1c2b34;font-weight:400;letter-spacing:0.009px;">Linear Forecast</div>
<div class="t" style="left:1049.00px;top:313.00px;font-size:13.5px;line-height:18px;color:#1c2b34;font-weight:400;letter-spacing:-0.113px;">Seasonal Forecast</div>
<div class="t" style="left:1080.41px;top:344.00px;font-size:13.5px;line-height:18px;color:#1c2b34;font-weight:400;letter-spacing:0.312px;">Outliers</div>
<div class="t" style="left:1073.40px;top:375.00px;font-size:13.5px;line-height:18px;color:#1c2b34;font-weight:400;letter-spacing:0.259px;">Derivative</div>
<div class="t" style="left:1054.85px;top:407.00px;font-size:13.5px;line-height:18px;color:#1c2b34;font-weight:400;letter-spacing:0.085px;">Cumulative Sum</div>
<div class="t" style="left:992.65px;top:446.00px;font-size:13.5px;line-height:18px;color:#69757f;font-weight:400;letter-spacing:0.128px;">Compare to previous</div>
<div class="t" style="left:1012.20px;top:470.00px;font-size:13.5px;line-height:18px;color:#1c2b34;font-weight:400;letter-spacing:0.700px;">Hour</div>
<div class="t" style="left:1012.20px;top:491.00px;font-size:13.5px;line-height:18px;color:#1c2b34;font-weight:400;letter-spacing:-0.092px;">Day</div>
<div class="t" style="left:1013.19px;top:512.00px;font-size:13.5px;line-height:18px;color:#1c2b34;font-weight:400;letter-spacing:-0.631px;">Week</div>
<div class="t" style="left:1012.20px;top:533.00px;font-size:13.5px;line-height:18px;color:#1c2b34;font-weight:400;letter-spacing:0.851px;">Month</div>
<div class="t" style="left:1124.41px;top:470.00px;font-size:13.5px;line-height:18px;color:#1c2b34;font-weight:400;letter-spacing:0.422px;">Quarter</div>
<div class="t" style="left:1124.46px;top:491.00px;font-size:13.5px;line-height:18px;color:#1c2b34;font-weight:400;letter-spacing:-0.155px;">Year</div>
<div class="t" style="left:1124.00px;top:512.00px;font-size:13.5px;line-height:18px;color:#1c2b34;font-weight:400;letter-spacing:0.333px;">Period</div>
<div class="t" style="left:992.40px;top:567.00px;font-size:12.8px;line-height:17px;color:#69757f;font-weight:400;letter-spacing:-0.239px;">Y Scale</div>
<div class="t" style="left:1002.90px;top:597.00px;font-size:13.5px;line-height:18px;color:#fff;font-weight:400;letter-spacing:0.332px;-webkit-text-stroke:0.35px #fff;">Linear</div>
<div class="t" style="left:1062.50px;top:597.00px;font-size:13.5px;line-height:18px;color:#1c2b34;font-weight:400;letter-spacing:0.468px;">Log</div>
<div class="t" style="left:1022.05px;top:670.00px;font-size:13.5px;line-height:18px;color:#1c2b34;font-weight:400;letter-spacing:-0.114px;">Cancel</div>
<div class="t" style="left:1091.80px;top:670.00px;font-size:13.5px;line-height:18px;color:#1c2b34;font-weight:400;letter-spacing:-0.029px;">Save to...</div>
<div class="t" style="left:1176.90px;top:670.00px;font-size:13.5px;line-height:18px;color:#fff;font-weight:400;letter-spacing:-0.400px;-webkit-text-stroke:0.3px #fff;">Save</div>
<div class="t" style="left:83.70px;top:445.00px;font-size:13.5px;line-height:18px;color:#77828c;font-weight:400;letter-spacing:0.048px;">Filter series</div>
<div class="t" style="left:62.11px;top:482.00px;font-size:11px;line-height:14px;color:#1c2b34;font-weight:700;letter-spacing:0.101px;">host in avg:system.net.bytes_sent{*}</div>
<div class="t" style="left:65.64px;top:502.00px;font-size:10.8px;line-height:14px;color:#152f6e;font-weight:400;letter-spacing:-0.112px;-webkit-text-stroke:0.15px #152f6e;">EC2AMAZ-EUNO50S</div>
<div class="t" style="left:65.83px;top:524.00px;font-size:11.3px;line-height:15px;color:#152f6e;font-weight:400;letter-spacing:0.020px;-webkit-text-stroke:0.15px #152f6e;">ip-172-31-22-254</div>
<div class="t" style="left:65.83px;top:546.00px;font-size:11.3px;line-height:15px;color:#152f6e;font-weight:400;letter-spacing:0.020px;-webkit-text-stroke:0.15px #152f6e;">ip-172-31-27-169</div>
<div class="t" style="left:65.84px;top:568.00px;font-size:11.3px;line-height:15px;color:#152f6e;font-weight:400;letter-spacing:0.397px;-webkit-text-stroke:0.15px #152f6e;">ubuntu2404</div>
<div class="t" style="left:66.49px;top:590.00px;font-size:11.3px;line-height:15px;color:#152f6e;font-weight:400;letter-spacing:0.205px;-webkit-text-stroke:0.15px #152f6e;">vinay-private-dd-ubu1</div>
<div class="t" style="left:656.42px;top:482.00px;font-size:10.5px;line-height:14px;color:#1c2b34;font-weight:700;letter-spacing:-0.083px;">AVG</div>
<div class="t" style="left:727.51px;top:482.00px;font-size:11.4px;line-height:15px;color:#1c2b34;font-weight:700;letter-spacing:1.015px;">MIN</div>
<div class="t" style="left:791.63px;top:482.00px;font-size:11.3px;line-height:15px;color:#1c2b34;font-weight:700;letter-spacing:-0.063px;">MAX</div>
<div class="t" style="left:861.24px;top:482.00px;font-size:11px;line-height:14px;color:#1c2b34;font-weight:700;letter-spacing:0.106px;">SUM</div>
<div class="t" style="left:920.25px;top:482.00px;font-size:10.5px;line-height:14px;color:#1c2b34;font-weight:700;letter-spacing:-0.174px;">VALUE</div>
<div class="t" style="left:660.90px;top:502.00px;font-size:11.3px;line-height:15px;color:#77828c;font-weight:400;letter-spacing:0.349px;">B/s</div>
<div class="t" style="left:623.40px;top:502.00px;font-size:11.3px;line-height:15px;color:#1c2b34;font-weight:400;letter-spacing:0.000px;">941.05</div>
<div class="t" style="left:723.70px;top:502.00px;font-size:11.3px;line-height:15px;color:#77828c;font-weight:400;letter-spacing:0.075px;">KiB/s</div>
<div class="t" style="left:698.62px;top:502.00px;font-size:11.3px;line-height:15px;color:#1c2b34;font-weight:400;letter-spacing:0.000px;">0.57</div>
<div class="t" style="left:790.10px;top:502.00px;font-size:11.3px;line-height:15px;color:#77828c;font-weight:400;letter-spacing:0.075px;">KiB/s</div>
<div class="t" style="left:771.02px;top:502.00px;font-size:11.3px;line-height:15px;color:#1c2b34;font-weight:400;letter-spacing:0.000px;">1.4</div>
<div class="t" style="left:855.50px;top:502.00px;font-size:11.3px;line-height:15px;color:#77828c;font-weight:400;letter-spacing:0.490px;">MiB/s</div>
<div class="t" style="left:830.38px;top:502.00px;font-size:11.3px;line-height:15px;color:#1c2b34;font-weight:400;letter-spacing:0.000px;">0.16</div>
<div class="t" style="left:937.30px;top:502.00px;font-size:11.3px;line-height:15px;color:#77828c;font-weight:400;letter-spacing:0.349px;">B/s</div>
<div class="t" style="left:899.86px;top:502.00px;font-size:11.3px;line-height:15px;color:#1c2b34;font-weight:400;letter-spacing:0.000px;">601.31</div>
<div class="t" style="left:651.30px;top:524.00px;font-size:11.3px;line-height:15px;color:#77828c;font-weight:400;letter-spacing:0.075px;">KiB/s</div>
<div class="t" style="left:627.11px;top:524.00px;font-size:11.3px;line-height:15px;color:#1c2b34;font-weight:400;letter-spacing:0.000px;">11.0</div>
<div class="t" style="left:723.70px;top:524.00px;font-size:11.3px;line-height:15px;color:#77828c;font-weight:400;letter-spacing:0.075px;">KiB/s</div>
<div class="t" style="left:698.51px;top:524.00px;font-size:11.3px;line-height:15px;color:#1c2b34;font-weight:400;letter-spacing:0.000px;">9.10</div>
<div class="t" style="left:790.10px;top:524.00px;font-size:11.3px;line-height:15px;color:#77828c;font-weight:400;letter-spacing:0.075px;">KiB/s</div>
<div class="t" style="left:765.01px;top:524.00px;font-size:11.3px;line-height:15px;color:#1c2b34;font-weight:400;letter-spacing:0.000px;">14.9</div>
<div class="t" style="left:855.50px;top:524.00px;font-size:11.3px;line-height:15px;color:#77828c;font-weight:400;letter-spacing:0.490px;">MiB/s</div>
<div class="t" style="left:830.55px;top:524.00px;font-size:11.3px;line-height:15px;color:#1c2b34;font-weight:400;letter-spacing:0.000px;">1.92</div>
<div class="t" style="left:927.70px;top:524.00px;font-size:11.3px;line-height:15px;color:#77828c;font-weight:400;letter-spacing:0.075px;">KiB/s</div>
<div class="t" style="left:908.62px;top:524.00px;font-size:11.3px;line-height:15px;color:#1c2b34;font-weight:400;letter-spacing:0.000px;">9.4</div>
<div class="t" style="left:651.30px;top:546.00px;font-size:11.3px;line-height:15px;color:#77828c;font-weight:400;letter-spacing:0.075px;">KiB/s</div>
<div class="t" style="left:626.35px;top:546.00px;font-size:11.3px;line-height:15px;color:#1c2b34;font-weight:400;letter-spacing:0.000px;">19.2</div>
<div class="t" style="left:723.70px;top:546.00px;font-size:11.3px;line-height:15px;color:#77828c;font-weight:400;letter-spacing:0.075px;">KiB/s</div>
<div class="t" style="left:692.50px;top:546.00px;font-size:11.3px;line-height:15px;color:#1c2b34;font-weight:400;letter-spacing:0.000px;">14.91</div>
<div class="t" style="left:790.10px;top:546.00px;font-size:11.3px;line-height:15px;color:#77828c;font-weight:400;letter-spacing:0.075px;">KiB/s</div>
<div class="t" style="left:765.13px;top:546.00px;font-size:11.3px;line-height:15px;color:#1c2b34;font-weight:400;letter-spacing:0.000px;">46.1</div>
<div class="t" style="left:855.50px;top:546.00px;font-size:11.3px;line-height:15px;color:#77828c;font-weight:400;letter-spacing:0.490px;">MiB/s</div>
<div class="t" style="left:830.34px;top:546.00px;font-size:11.3px;line-height:15px;color:#1c2b34;font-weight:400;letter-spacing:0.000px;">3.35</div>
<div class="t" style="left:927.70px;top:546.00px;font-size:11.3px;line-height:15px;color:#77828c;font-weight:400;letter-spacing:0.075px;">KiB/s</div>
<div class="t" style="left:902.56px;top:546.00px;font-size:11.3px;line-height:15px;color:#1c2b34;font-weight:400;letter-spacing:0.000px;">24.8</div>
<div class="t" style="left:651.30px;top:568.00px;font-size:11.3px;line-height:15px;color:#77828c;font-weight:400;letter-spacing:0.075px;">KiB/s</div>
<div class="t" style="left:625.91px;top:568.00px;font-size:11.3px;line-height:15px;color:#1c2b34;font-weight:400;letter-spacing:0.000px;">10.4</div>
<div class="t" style="left:723.70px;top:568.00px;font-size:11.3px;line-height:15px;color:#77828c;font-weight:400;letter-spacing:0.075px;">KiB/s</div>
<div class="t" style="left:698.61px;top:568.00px;font-size:11.3px;line-height:15px;color:#1c2b34;font-weight:400;letter-spacing:0.000px;">9.59</div>
<div class="t" style="left:790.10px;top:568.00px;font-size:11.3px;line-height:15px;color:#77828c;font-weight:400;letter-spacing:0.075px;">KiB/s</div>
<div class="t" style="left:764.71px;top:568.00px;font-size:11.3px;line-height:15px;color:#1c2b34;font-weight:400;letter-spacing:0.000px;">13.4</div>
<div class="t" style="left:855.50px;top:568.00px;font-size:11.3px;line-height:15px;color:#77828c;font-weight:400;letter-spacing:0.490px;">MiB/s</div>
<div class="t" style="left:830.55px;top:568.00px;font-size:11.3px;line-height:15px;color:#1c2b34;font-weight:400;letter-spacing:0.000px;">1.82</div>
<div class="t" style="left:927.70px;top:568.00px;font-size:11.3px;line-height:15px;color:#77828c;font-weight:400;letter-spacing:0.075px;">KiB/s</div>
<div class="t" style="left:902.31px;top:568.00px;font-size:11.3px;line-height:15px;color:#1c2b34;font-weight:400;letter-spacing:0.000px;">10.4</div>
<div class="t" style="left:651.30px;top:590.00px;font-size:11.3px;line-height:15px;color:#77828c;font-weight:400;letter-spacing:0.075px;">KiB/s</div>
<div class="t" style="left:626.14px;top:590.00px;font-size:11.3px;line-height:15px;color:#1c2b34;font-weight:400;letter-spacing:0.000px;">10.5</div>
<div class="t" style="left:723.70px;top:590.00px;font-size:11.3px;line-height:15px;color:#77828c;font-weight:400;letter-spacing:0.075px;">KiB/s</div>
<div class="t" style="left:698.56px;top:590.00px;font-size:11.3px;line-height:15px;color:#1c2b34;font-weight:400;letter-spacing:0.000px;">8.28</div>
<div class="t" style="left:790.10px;top:590.00px;font-size:11.3px;line-height:15px;color:#77828c;font-weight:400;letter-spacing:0.075px;">KiB/s</div>
<div class="t" style="left:765.01px;top:590.00px;font-size:11.3px;line-height:15px;color:#1c2b34;font-weight:400;letter-spacing:0.000px;">14.9</div>
<div class="t" style="left:855.50px;top:590.00px;font-size:11.3px;line-height:15px;color:#77828c;font-weight:400;letter-spacing:0.490px;">MiB/s</div>
<div class="t" style="left:830.38px;top:590.00px;font-size:11.3px;line-height:15px;color:#1c2b34;font-weight:400;letter-spacing:0.000px;">1.83</div>
<div class="t" style="left:927.70px;top:590.00px;font-size:11.3px;line-height:15px;color:#77828c;font-weight:400;letter-spacing:0.075px;">KiB/s</div>
<div class="t" style="left:909.20px;top:590.00px;font-size:11.3px;line-height:15px;color:#1c2b34;font-weight:400;letter-spacing:0.000px;">9.2</div>
<div class="t" style="left:52.82px;top:343.00px;font-size:10px;line-height:13px;color:#1c2b34;font-weight:400;letter-spacing:0.000px;">0</div>
<div class="t" style="left:52.77px;top:311.00px;font-size:10px;line-height:13px;color:#1c2b34;font-weight:400;letter-spacing:0.000px;">8</div>
<div class="t" style="left:45.66px;top:280.00px;font-size:10px;line-height:13px;color:#1c2b34;font-weight:400;letter-spacing:1.197px;">16</div>
<div class="t" style="left:46.32px;top:248.00px;font-size:10px;line-height:13px;color:#1c2b34;font-weight:400;letter-spacing:0.315px;">24</div>
<div class="t" style="left:46.24px;top:217.00px;font-size:10px;line-height:13px;color:#1c2b34;font-weight:400;letter-spacing:0.819px;">32</div>
<div class="t" style="left:46.65px;top:185.00px;font-size:10px;line-height:13px;color:#1c2b34;font-weight:400;letter-spacing:0.156px;">40</div>
<div class="t" style="left:46.65px;top:154.00px;font-size:10px;line-height:13px;color:#1c2b34;font-weight:400;letter-spacing:0.207px;">48</div>
<div class="t" style="left:46.20px;top:122.00px;font-size:10px;line-height:13px;color:#1c2b34;font-weight:400;letter-spacing:0.661px;">56</div>
<div class="t" style="left:101.86px;top:354.00px;font-size:10px;line-height:13px;color:#1c2b34;font-weight:400;letter-spacing:0.020px;">16:35</div>
<div class="t" style="left:176.86px;top:354.00px;font-size:10px;line-height:13px;color:#1c2b34;font-weight:400;letter-spacing:0.010px;">16:40</div>
<div class="t" style="left:251.86px;top:354.00px;font-size:10px;line-height:13px;color:#1c2b34;font-weight:400;letter-spacing:0.020px;">16:45</div>
<div class="t" style="left:326.86px;top:354.00px;font-size:10px;line-height:13px;color:#1c2b34;font-weight:400;letter-spacing:0.010px;">16:50</div>
<div class="t" style="left:401.86px;top:354.00px;font-size:10px;line-height:13px;color:#1c2b34;font-weight:400;letter-spacing:0.020px;">16:55</div>
<div class="t" style="left:476.86px;top:354.00px;font-size:10px;line-height:13px;color:#1c2b34;font-weight:400;letter-spacing:0.010px;">17:00</div>
<div class="t" style="left:551.86px;top:354.00px;font-size:10px;line-height:13px;color:#1c2b34;font-weight:400;letter-spacing:0.020px;">17:05</div>
<div class="t" style="left:626.86px;top:354.00px;font-size:10px;line-height:13px;color:#1c2b34;font-weight:400;letter-spacing:0.010px;">17:10</div>
<div class="t" style="left:701.86px;top:354.00px;font-size:10px;line-height:13px;color:#1c2b34;font-weight:400;letter-spacing:0.020px;">17:15</div>
<div class="t" style="left:776.86px;top:354.00px;font-size:10px;line-height:13px;color:#1c2b34;font-weight:400;letter-spacing:0.010px;">17:20</div>
<div class="t" style="left:851.86px;top:354.00px;font-size:10px;line-height:13px;color:#1c2b34;font-weight:400;letter-spacing:0.020px;">17:25</div>
<div class="t" style="left:926.86px;top:354.00px;font-size:10px;line-height:13px;color:#1c2b34;font-weight:400;letter-spacing:0.010px;">17:30</div></div>
</div></body></html>
